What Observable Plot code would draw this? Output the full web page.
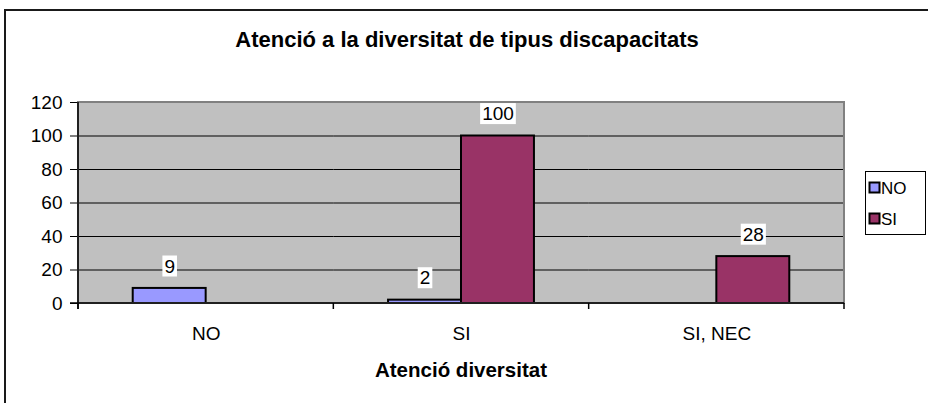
<!DOCTYPE html>
<html>
<head>
<meta charset="utf-8">
<script src="https://cdn.jsdelivr.net/npm/d3@7"></script>
<script src="https://cdn.jsdelivr.net/npm/@observablehq/plot@0.6"></script>
<style>
  html, body { margin: 0; padding: 0; background: #fff; }
  #chart svg { display: block; }
</style>
</head>
<body>
<div id="chart"></div>
<script>
const chartTitle = "Atenció a la diversitat de tipus discapacitats";
const xTitle = "Atenció diversitat";
const groups = ["NO", "SI", "SI, NEC"];
const seriesNames = ["NO", "SI"];
const valuesNO = [9, 2, null];
const valuesSI = [null, 100, 28];
const yTicks = [0, 20, 40, 60, 80, 100, 120];
const colors = ["#9999ff", "#993366"];

(function () {
const rows = [];
groups.forEach((g, i) => {
  if (valuesNO[i] != null) rows.push({group: g, series: "NO", value: valuesNO[i]});
  if (valuesSI[i] != null) rows.push({group: g, series: "SI", value: valuesSI[i]});
});

const W = 928, H = 403;
const font = "'Liberation Sans', Arial, Helvetica, sans-serif";

const chart = Plot.plot({
  width: W, height: H,
  marginLeft: 78, marginRight: 84, marginTop: 102, marginBottom: 100,
  style: {fontFamily: font, fontSize: "19px", color: "black", background: "white", overflow: "visible"},
  fx: {domain: groups, padding: 0, round: false},
  x: {domain: seriesNames, paddingInner: 0, paddingOuter: 0.75, round: false, axis: null},
  y: {domain: [0, 120]},
  color: {domain: seriesNames, range: colors},
  marks: [
    Plot.gridY(yTicks.slice(1, -1), {stroke: "black", strokeOpacity: 1, strokeWidth: 1}),
    Plot.barY(rows, {fx: "group", x: "series", y: "value", fill: "series", stroke: "black", strokeWidth: 2}),
    Plot.text(rows, {fx: "group", x: "series", y: "value", text: d => String(d.value), dy: -22, fill: "black", fontSize: 19}),
    Plot.axisY(yTicks, {tickSize: 8, tickPadding: 8, label: null, fontSize: 19, stroke: "black"}),
    Plot.axisFx({anchor: "bottom", tickSize: 0, tickPadding: 23, label: null, fontSize: 19})
  ]
});

document.getElementById("chart").appendChild(chart);

const svg = d3.select(chart);
const fx = chart.scale("fx");
const y = chart.scale("y");
const pLeft = 78, pRight = W - 84, pTop = y.apply(120), pBottom = y.apply(0);

// plot area background (single rect, behind everything)
svg.insert("rect", ":first-child")
  .attr("x", pLeft).attr("y", pTop).attr("width", pRight - pLeft).attr("height", pBottom - pTop)
  .attr("fill", "#c0c0c0").attr("stroke", "none");

// white boxes behind value labels
svg.selectAll('g[aria-label="text"] text').each(function() {
  const b = this.getBBox();
  const node = this;
  const r = d3.select(this.parentNode).insert("rect", () => node)
    .attr("x", b.x - 2).attr("y", b.y).attr("width", b.width + 4).attr("height", b.height)
    .attr("fill", "white").attr("stroke", "none");
  const t = node.getAttribute("transform");
  if (t) r.attr("transform", t);
});

const extra = svg.append("g").attr("text-anchor", "start");
// plot area border
extra.append("rect").attr("x", pLeft).attr("y", pTop).attr("width", pRight - pLeft).attr("height", pBottom - pTop)
  .attr("fill", "none").attr("stroke", "#808080").attr("stroke-width", 2);
// axis lines
extra.append("line").attr("x1", pLeft).attr("x2", pLeft).attr("y1", pTop).attr("y2", pBottom + 6)
  .attr("stroke", "black").attr("stroke-width", 1.5);
extra.append("line").attr("x1", pLeft - 8).attr("x2", pRight).attr("y1", pBottom).attr("y2", pBottom)
  .attr("stroke", "black").attr("stroke-width", 1.5);
// category boundary ticks
const bounds = groups.map(g => fx.apply(g)).concat([fx.apply(groups[groups.length - 1]) + fx.bandwidth]);
bounds.forEach(xv => {
  extra.append("line").attr("x1", xv).attr("x2", xv).attr("y1", pBottom).attr("y2", pBottom + 6)
    .attr("stroke", "black").attr("stroke-width", 1.5);
});

// outer chart frame
extra.append("rect").attr("x", 5).attr("y", 10).attr("width", W + 20).attr("height", H + 20)
  .attr("fill", "none").attr("stroke", "#1a1a1a").attr("stroke-width", 2);

// title
extra.append("text").attr("x", 467).attr("y", 47).attr("text-anchor", "middle")
  .attr("font-family", font).attr("font-weight", "bold").attr("font-size", 22).attr("fill", "black")
  .text(chartTitle);
// x axis title
extra.append("text").attr("x", (pLeft + pRight) / 2).attr("y", 377).attr("text-anchor", "middle")
  .attr("font-family", font).attr("font-weight", "bold").attr("font-size", 20.5).attr("fill", "black")
  .text(xTitle);

// legend
const lg = extra.append("g");
lg.append("rect").attr("x", 865.5).attr("y", 171.5).attr("width", 60).attr("height", 63)
  .attr("fill", "white").attr("stroke", "black").attr("stroke-width", 1);
seriesNames.forEach((s, i) => {
  const yy = 182.5 + i * 31;
  lg.append("rect").attr("x", 869.5).attr("y", yy).attr("width", 10).attr("height", 10)
    .attr("fill", colors[i]).attr("stroke", "black").attr("stroke-width", 2);
  lg.append("text").attr("x", 881).attr("y", yy + 11).attr("text-anchor", "start").attr("font-family", font)
    .attr("font-size", 17).attr("fill", "black").text(s);
});
})();
</script>
</body>
</html>
